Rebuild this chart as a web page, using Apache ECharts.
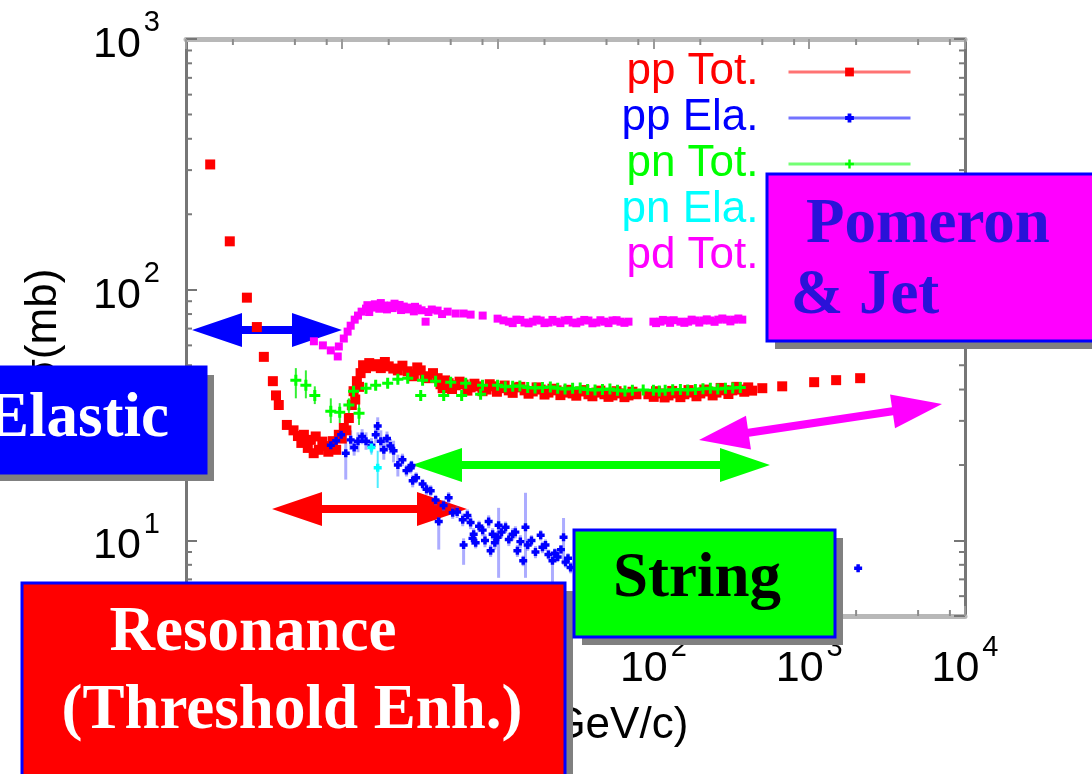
<!DOCTYPE html>
<html>
<head>
<meta charset="utf-8">
<script src="https://cdn.jsdelivr.net/npm/echarts@6/dist/echarts.min.js"></script>
<style>
html, body { margin: 0; padding: 0; background: #fff; }
#chart { width: 1092px; height: 774px; }
</style>
</head>
<body>
<div id="chart"></div>
<script>
// Beam momentum p_lab (GeV/c) vs cross section sigma (mb)

// pp total: [p_lab, sigma]
const ppTot = [
  [0.143, 316], [0.191, 156], [0.246, 93], [0.285, 71], [0.316, 54], [0.361, 43.2],
  [0.378, 37.9], [0.394, 34.7], [0.444, 28.9], [0.49, 27.5], [0.523, 26.1], [0.55, 24.5],
  [0.571, 26.4], [0.605, 23.4], [0.633, 25.2], [0.66, 22.3], [0.68, 26.0], [0.712, 23.0],
  [0.75, 24.8], [0.789, 23.8], [0.82, 22.6], [0.875, 24.9], [0.92, 23.0], [0.957, 26.4],
  [1.0, 25.5], [1.03, 28.1], [1.07, 27.5], [1.11, 30.8], [1.16, 34.7], [1.19, 39.4],
  [1.22, 36.5], [1.25, 43.2], [1.29, 41.0], [1.32, 46.5], [1.37, 50.0], [1.43, 48.7],
  [1.50, 51.0], [1.58, 49.5], [1.68, 50.5], [1.78, 48.7], [1.89, 51.5], [2.0, 49.5],
  [2.14, 48.5], [2.29, 47.7], [2.45, 49.8], [2.65, 47.3], [2.78, 46.0], [2.90, 45.2],
  [3.05, 49.0], [3.21, 47.7], [3.4, 45.2], [3.56, 44.4], [3.85, 46.5], [4.12, 44.4],
  [4.3, 42.0], [4.44, 40.5], [4.6, 43.5], [4.85, 42.4], [5.1, 40.2], [5.38, 41.6],
  [5.7, 43.0], [6.05, 41.9], [6.4, 39.6], [6.71, 40.8], [7.1, 42.2], [7.55, 41.2],
  [8.0, 39.4], [8.50, 40.0], [8.9, 42.0], [9.42, 41.2], [9.9, 39.2], [10.45, 40.5],
  [11.1, 41.5], [11.8, 39.7], [12.5, 38.8], [13.2, 40.8], [14.0, 41.0], [14.9, 39.7],
  [15.8, 38.5], [16.8, 39.3], [17.8, 40.8], [18.9, 40.0], [20.0, 38.2], [21.2, 38.9],
  [22.5, 40.3], [23.9, 39.7], [25.3, 38.0], [26.9, 38.9], [28.5, 39.9], [30.3, 38.6],
  [32.0, 37.8], [34.0, 39.3], [36.0, 39.8], [38.3, 38.3], [40.6, 37.6], [43.1, 38.9],
  [45.7, 39.6], [48.5, 38.3], [51.5, 37.4], [54.6, 37.9], [58.0, 39.4], [61.4, 38.6],
  [65.2, 37.3], [69.2, 37.9], [73.4, 39.2], [77.8, 38.3], [92.9, 38.3], [100.5, 37.4],
  [104, 39.4], [111, 38.6], [118, 37.2], [125, 37.9], [132, 39.5], [140, 38.6],
  [149, 37.3], [158, 38.3], [168, 39.8], [178, 38.9], [189, 37.6], [200, 38.6],
  [212, 40.0], [225, 39.3], [240, 37.9], [254, 38.9], [270, 40.6], [285, 39.7],
  [303, 38.4], [321, 39.7], [341, 41.0], [361, 40.0], [383, 39.2], [406, 40.8],
  [430, 39.6], [500, 40.5], [671, 41.2], [1076, 42.8], [1489, 43.6], [2123, 44.4]
];

// pp elastic: [p_lab, sigma, sigma_low, sigma_high]
const ppEla = [
  [0.85, 24.0, 22.5, 25.5], [0.92, 25.0, 23.6, 26.4], [0.99, 26.4, 25.0, 27.8],
  [1.06, 22.3, 17.5, 25.0], [1.14, 25.2, 23.0, 27.5], [1.20, 23.5, 21.8, 25.2],
  [1.27, 24.9, 22.5, 27.0], [1.35, 26.0, 24.2, 27.8], [1.43, 24.9, 23.0, 27.0],
  [1.55, 24.0, 22.4, 25.6], [1.65, 26.4, 24.5, 28.5], [1.70, 28.6, 26.0, 31.0],
  [1.78, 24.9, 22.5, 27.5], [1.86, 23.0, 21.0, 25.0], [1.95, 25.5, 23.8, 27.2],
  [2.05, 23.8, 22.2, 25.4], [2.15, 22.8, 20.5, 25.0], [2.29, 20.0, 18.0, 22.0],
  [2.45, 21.0, 19.8, 22.2], [2.60, 19.0, 18.0, 20.0], [2.77, 19.5, 18.5, 20.5],
  [2.80, 19.9, 19.0, 20.8], [2.85, 17.3, 16.3, 18.3], [3.0, 17.8, 16.9, 18.7],
  [3.3, 16.8, 16.0, 17.6], [3.5, 16.0, 15.2, 16.8], [3.72, 15.8, 15.0, 16.6],
  [4.0, 14.5, 13.8, 15.2], [4.19, 11.9, 9.2, 12.4], [4.5, 13.8, 13.1, 14.5],
  [4.85, 14.8, 14.0, 15.6], [5.15, 12.9, 12.2, 13.6], [5.5, 13.0, 12.3, 13.7],
  [5.97, 12.1, 11.4, 12.8], [6.05, 9.6, 8.0, 10.2], [6.4, 12.6, 11.9, 13.3],
  [6.71, 11.8, 11.1, 12.5], [6.9, 10.2, 9.6, 10.8], [7.02, 10.6, 10.0, 11.2],
  [7.23, 9.8, 9.3, 10.3], [7.6, 11.4, 10.8, 12.0], [8.02, 11.0, 10.4, 11.6],
  [8.3, 10.0, 9.4, 10.6], [8.76, 11.9, 11.2, 12.6], [9.02, 9.1, 8.6, 9.6],
  [9.29, 10.6, 10.0, 11.2], [9.6, 9.8, 9.2, 10.4], [10.0, 10.3, 9.7, 10.9],
  [10.15, 11.5, 7.1, 13.5], [10.6, 10.8, 10.2, 11.4], [11.25, 11.3, 10.7, 11.9],
  [11.8, 10.1, 9.5, 10.7], [12.5, 10.6, 10.0, 11.2], [13.0, 10.8, 10.2, 11.4],
  [13.4, 9.1, 8.6, 9.6], [14.0, 9.9, 9.3, 10.5], [14.6, 8.3, 7.9, 8.7],
  [15.1, 11.3, 7.1, 15.5], [15.6, 9.6, 9.1, 10.1], [16.5, 10.0, 9.5, 10.5],
  [17.5, 9.0, 8.5, 9.5], [18.9, 10.5, 10.0, 11.0], [19.4, 9.4, 8.9, 9.9],
  [20.3, 9.6, 9.1, 10.1], [21.2, 8.8, 8.4, 9.2], [22.5, 8.3, 6.7, 8.9],
  [23.3, 8.9, 8.5, 9.3], [24.3, 8.6, 8.2, 9.0], [25.5, 9.2, 8.8, 9.6],
  [26.5, 10.3, 8.0, 12.3], [27.3, 8.2, 7.8, 8.6], [28.3, 8.5, 8.1, 8.9],
  [29.4, 7.8, 7.4, 8.2], [50, 7.6, 7.3, 7.9], [150, 7.3, 7.0, 7.6],
  [500, 7.3, 7.0, 7.6], [2061, 7.75, 7.5, 8.0]
];

// pn total: [p_lab, sigma, sigma_low, sigma_high]
const pnTot = [
  [0.507, 43.6, 36.9, 48.7], [0.588, 41.6, 36.9, 47.7], [0.671, 37.9, 35.0, 41.2],
  [0.850, 32.8, 29.4, 36.9], [0.970, 32.5, 29.4, 35.3], [1.11, 34.7, 32.2, 36.9],
  [1.19, 39.4, 37.0, 42.0], [1.29, 32.2, 28.9, 35.3], [1.43, 40.5, 38.5, 42.5],
  [1.65, 41.6, 40.0, 43.2], [1.97, 42.4, 41.0, 43.8], [2.29, 44.0, 42.8, 45.2],
  [2.65, 44.4, 43.2, 45.6], [3.21, 37.9, 36.8, 39.0], [3.30, 43.6, 42.6, 44.6],
  [4.0, 43.2, 42.2, 44.2], [4.51, 37.9, 37.0, 38.8], [5.0, 42.8, 41.8, 43.8],
  [5.88, 37.9, 37.0, 38.8], [6.24, 42.4, 41.5, 43.3], [7.78, 38.3, 37.5, 39.1],
  [8.0, 41.6, 40.8, 42.4], [10, 41.6, 40.8, 42.4], [11.2, 41.0, 40.2, 41.8],
  [12.5, 41.2, 40.4, 42.0], [13.9, 41.3, 40.5, 42.1], [15.6, 40.8, 40.0, 41.6],
  [17.4, 40.6, 39.8, 41.4], [19.4, 40.8, 40.0, 41.6], [21.8, 40.9, 40.1, 41.7],
  [24.3, 40.5, 39.7, 41.3], [27.1, 40.2, 39.4, 41.0], [30.3, 40.5, 39.7, 41.3],
  [33.9, 40.6, 39.8, 41.4], [37.8, 40.0, 39.2, 40.8], [42.2, 39.8, 39.0, 40.6],
  [47.1, 40.0, 39.2, 40.8], [52.6, 40.2, 39.4, 41.0], [58.8, 39.7, 38.9, 40.5],
  [65.7, 39.5, 38.7, 40.3], [73.3, 39.7, 38.9, 40.5], [86, 39.8, 39.0, 40.6],
  [100, 39.7, 38.9, 40.5], [109, 39.5, 38.7, 40.3], [119, 39.7, 38.9, 40.5],
  [133, 39.9, 39.1, 40.7], [149, 40.0, 39.2, 40.8], [166, 39.8, 39.0, 40.6],
  [186, 40.0, 39.2, 40.8], [208, 40.3, 39.5, 41.1], [232, 40.5, 39.7, 41.3],
  [259, 40.2, 39.4, 41.0], [290, 40.5, 39.7, 41.3], [323, 40.6, 39.8, 41.4],
  [361, 40.8, 40.0, 41.6]
];

// pn elastic: [p_lab, sigma, sigma_low, sigma_high]
const pnEla = [
  [1.70, 19.5, 16.2, 22.8], [1.55, 23.5, 22.0, 25.0]
];

// pd total: [p_lab, sigma]
const pdTot = [
  [0.662, 62.3], [0.756, 60.0], [0.850, 57.3], [0.942, 54.2], [0.957, 59.4], [1.03, 63.9],
  [1.09, 68.1], [1.14, 71.9], [1.21, 76.0], [1.27, 78.9], [1.34, 81.8], [1.43, 84.1],
  [1.46, 86.8], [1.50, 81.5], [1.56, 84.9], [1.63, 87.5], [1.70, 85.7], [1.74, 84.0],
  [1.78, 88.5], [1.86, 86.5], [1.92, 86.0], [1.95, 83.5], [2.06, 86.5], [2.12, 84.5],
  [2.18, 88.0], [2.29, 85.7], [2.35, 87.0], [2.40, 83.0], [2.50, 85.7], [2.62, 83.5],
  [2.77, 84.9], [2.90, 82.0], [2.95, 85.5], [3.07, 84.1], [3.25, 82.8], [3.45, 74.6],
  [3.6, 81.5], [3.78, 83.4], [4.12, 82.6], [4.40, 80.0], [4.78, 81.8], [5.38, 80.4],
  [6.05, 80.4], [6.71, 79.6], [8.02, 78.9], [10.0, 76.7], [10.9, 75.5], [11.8, 74.6],
  [12.5, 73.6], [13.2, 76.0], [14.0, 75.8], [14.9, 74.0], [15.8, 73.5], [16.8, 74.6],
  [17.8, 76.0], [18.9, 75.4], [20.0, 73.6], [21.2, 74.0], [22.5, 75.8], [23.9, 74.6],
  [25.3, 73.6], [26.9, 75.4], [28.5, 75.8], [30.3, 74.0], [32.0, 73.5], [34.0, 74.6],
  [36.0, 75.8], [38.3, 75.4], [40.6, 73.5], [43.1, 74.0], [45.7, 75.6], [48.5, 74.6],
  [51.5, 73.6], [54.6, 75.4], [58.0, 75.6], [61.4, 74.6], [65.2, 73.8], [69.2, 74.6],
  [100, 74.6], [104, 73.6], [111, 74.6], [115, 75.8], [121, 75.4], [128, 73.8],
  [135, 75.6], [149, 74.6], [158, 73.8], [167, 74.6], [176, 76.0], [186, 75.4],
  [197, 74.0], [209, 75.4], [220, 76.2], [232, 75.4], [247, 74.5], [261, 76.0],
  [277, 76.8], [294, 76.0], [312, 74.8], [330, 76.0], [351, 76.8], [372, 76.0]
];

// Axis ranges and minor tick positions
const xRange = [0.1, 10000];
const yRange = [5, 1000];
const xMinorTicks = [0.2, 0.5, 0.8, 2, 5, 8, 20, 50, 80, 200, 500, 800, 2000, 5000, 8000];
const yMinorTicks = [6, 7, 8, 9, 20, 30, 40, 50, 60, 70, 80, 90, 200, 300, 400, 500, 600, 700, 800, 900];

const seriesNames = ['pp Tot.', 'pp Ela.', 'pn Tot.', 'pn Ela.', 'pd Tot.'];
const seriesColors = ['#ff0000', '#0000ff', '#00ff00', '#00ffff', '#ff00ff'];

const SANS = '"Liberation Sans", Arial, sans-serif';
const SERIF = '"Liberation Serif", "Times New Roman", serif';

const plusThin = 'path://M4,0H7V4H11V7H7V11H4V7H0V4H4Z';
const plusThick = 'path://M2,0H5V2H7V5H5V7H2V5H0V2H2Z';

function powLabel(v) {
  const e = Math.round(Math.log10(v));
  if (Math.abs(v - Math.pow(10, e)) / v > 1e-6) return '';
  return '{b|10}{s|' + e + '}';
}
const powRich = {
  b: { fontSize: 43, fontFamily: SANS, color: '#000', padding: [12, 0, 0, 0] },
  s: { fontSize: 29, fontFamily: SANS, color: '#000', padding: [0, 0, 32, 3] }
};

function errorBarSeries(data, color, width) {
  return {
    type: 'custom',
    data: data.map(d => [d[0], d[2], d[3]]),
    encode: { x: 0, y: [1, 2] },
    silent: true,
    z: 2,
    renderItem: function (params, api) {
      const lo = api.coord([api.value(0), api.value(1)]);
      const hi = api.coord([api.value(0), api.value(2)]);
      return {
        type: 'line',
        shape: { x1: lo[0], y1: lo[1], x2: hi[0], y2: hi[1] },
        style: { stroke: color, lineWidth: width }
      };
    }
  };
}

function pointSeries(name, data, color, symbol, size, z) {
  return {
    name: name,
    type: 'line',
    data: data.map(d => [d[0], d[1]]),
    symbol: symbol,
    symbolSize: size,
    showSymbol: true,
    itemStyle: { color: color },
    lineStyle: { width: 0, opacity: 0 },
    silent: true,
    z: z
  };
}

// double-headed arrow outline between two tips
function arrowPoints(x1, y1, x2, y2, headLen, headHalf, shaftHalf) {
  const dx = x2 - x1, dy = y2 - y1, L = Math.hypot(dx, dy);
  const ux = dx / L, uy = dy / L, nx = -uy, ny = ux;
  const P = (s, t) => [x1 + ux * s + nx * t, y1 + uy * s + ny * t];
  return [P(0, 0), P(headLen, headHalf), P(headLen, shaftHalf), P(L - headLen, shaftHalf),
          P(L - headLen, headHalf), P(L, 0), P(L - headLen, -headHalf), P(L - headLen, -shaftHalf),
          P(headLen, -shaftHalf), P(headLen, -headHalf)];
}
function arrow(x1, y1, x2, y2, color) {
  return { type: 'polygon', z: 1, silent: true,
           shape: { points: arrowPoints(x1, y1, x2, y2, 50, 17, 4) },
           style: { fill: color } };
}
function box(x, y, w, h, fill, stroke) {
  return [
    { type: 'rect', z: 100, silent: true, shape: { x: x + 8, y: y + 8, width: w, height: h },
      style: { fill: '#808080' } },
    { type: 'rect', z: 101, silent: true, shape: { x: x, y: y, width: w, height: h },
      style: { fill: fill, stroke: stroke, lineWidth: 3 } }
  ];
}
function label(text, x, y, color) {
  return { type: 'text', z: 102, silent: true, x: x, y: y,
           style: { text: text, fill: color, font: 'bold 63px ' + SERIF,
                    align: 'center', verticalAlign: 'middle' } };
}

const chart = echarts.init(document.getElementById('chart'));

const xAxisBase = {
  type: 'log', logBase: 10, min: xRange[0], max: xRange[1],
  splitLine: { show: false },
  axisLine: { lineStyle: { color: '#b8b8b8', width: 5 } },
  axisTick: { inside: true, length: 10, lineStyle: { color: '#9a9a9a', width: 2 } },
  minorTick: { show: false }
};
const yAxisBase = {
  type: 'log', logBase: 10, min: yRange[0], max: yRange[1],
  splitLine: { show: false },
  axisLine: { lineStyle: { color: '#767676', width: 3 } },
  axisTick: { inside: true, length: 11, lineStyle: { color: '#767676', width: 2 } },
  minorTick: { show: false }
};

chart.setOption({
  animation: false,
  backgroundColor: '#ffffff',
  grid: { left: 186, right: 127, top: 39, bottom: 158 },
  xAxis: [
    Object.assign({}, xAxisBase, {
      position: 'bottom',
      axisLabel: { margin: 17, formatter: powLabel, rich: powRich },
      name: 'p{sub|lab} (GeV/c)',
      nameLocation: 'middle',
      nameGap: 86,
      nameTextStyle: { fontSize: 44, fontFamily: SANS, color: '#000',
                       rich: { sub: { fontSize: 28, fontFamily: SANS, color: '#000', padding: [20, 0, 0, 0] } } }
    }),
    Object.assign({}, xAxisBase, { position: 'top', axisLabel: { show: false } })
  ],
  yAxis: [
    Object.assign({}, yAxisBase, {
      position: 'left',
      axisLabel: { margin: 26, formatter: powLabel, rich: powRich },
      name: 'σ(mb)',
      nameLocation: 'middle',
      nameGap: 120,
      nameTextStyle: { fontSize: 44, fontFamily: SANS, color: '#000' }
    }),
    Object.assign({}, yAxisBase, { position: 'right', axisLabel: { show: false } })
  ],
  legend: {
    orient: 'vertical',
    right: 180,
    top: 49,
    padding: 0,
    itemGap: 0,
    align: 'right',
    itemWidth: 122,
    itemHeight: 11,
    selectedMode: false,
    lineStyle: { width: 3, opacity: 0.55 },
    textStyle: { fontSize: 44, fontFamily: SANS, lineHeight: 46, padding: [0, 25, 0, 0] },
    data: seriesNames.map((n, i) => ({ name: n, textStyle: { color: seriesColors[i] } }))
  },
  series: [
    {
      type: 'custom', silent: true, z: 3,
      data: xMinorTicks.map(v => [v, yRange[0]]),
      renderItem: function (params, api) {
        const p = api.coord([api.value(0), api.value(1)]);
        const cs = params.coordSys;
        const st = { stroke: '#8c8c8c', lineWidth: 2 };
        return { type: 'group', children: [
          { type: 'line', shape: { x1: p[0], y1: cs.y, x2: p[0], y2: cs.y + 6 }, style: st },
          { type: 'line', shape: { x1: p[0], y1: cs.y + cs.height, x2: p[0], y2: cs.y + cs.height - 6 }, style: st }
        ] };
      }
    },
    {
      type: 'custom', silent: true, z: 3,
      data: yMinorTicks.map(v => [xRange[0], v]),
      renderItem: function (params, api) {
        const p = api.coord([api.value(0), api.value(1)]);
        const cs = params.coordSys;
        const st = { stroke: '#7a7a7a', lineWidth: 2 };
        return { type: 'group', children: [
          { type: 'line', shape: { x1: cs.x, y1: p[1], x2: cs.x + 6, y2: p[1] }, style: st },
          { type: 'line', shape: { x1: cs.x + cs.width, y1: p[1], x2: cs.x + cs.width - 6, y2: p[1] }, style: st }
        ] };
      }
    },
    pointSeries('pp Tot.', ppTot, seriesColors[0], 'rect', 10, 4),
    pointSeries('pd Tot.', pdTot, seriesColors[4], 'rect', 8, 4),
    errorBarSeries(ppEla, 'rgba(70,70,255,0.45)', 3),
    pointSeries('pp Ela.', ppEla, seriesColors[1], plusThick, 8, 5),
    errorBarSeries(pnEla, 'rgba(0,230,255,0.7)', 2),
    pointSeries('pn Ela.', pnEla, seriesColors[3], plusThick, 8, 6),
    errorBarSeries(pnTot, 'rgba(0,235,0,0.8)', 2),
    pointSeries('pn Tot.', pnTot, seriesColors[2], plusThin, 11, 7)
  ],
  graphic: {
    elements: [
      arrow(192, 330, 342, 330, '#0000ff'),
      arrow(272, 509, 467, 509, '#ff0000'),
      arrow(412, 465, 770, 465, '#00ff00'),
      arrow(699, 440, 942, 404, '#ff00ff'),
      ...box(-30, 367, 236, 106, '#0000ff', '#0000ff'),
      label('Elastic', 78, 420, '#ffffff'),
      ...box(22, 583, 543, 200, '#ff0000', '#0000ff'),
      label('Resonance', 253, 634, '#ffffff'),
      label('(Threshold Enh.)', 292, 712, '#ffffff'),
      ...box(574, 530, 261, 107, '#00ff00', '#0000ff'),
      label('String', 697, 580, '#000000'),
      ...box(767, 174, 340, 167, '#ff00ff', '#0000ff'),
      label('Pomeron', 928, 226, '#2a12d8'),
      label('& Jet', 865, 297, '#2a12d8')
    ]
  }
});
</script>
</body>
</html>
